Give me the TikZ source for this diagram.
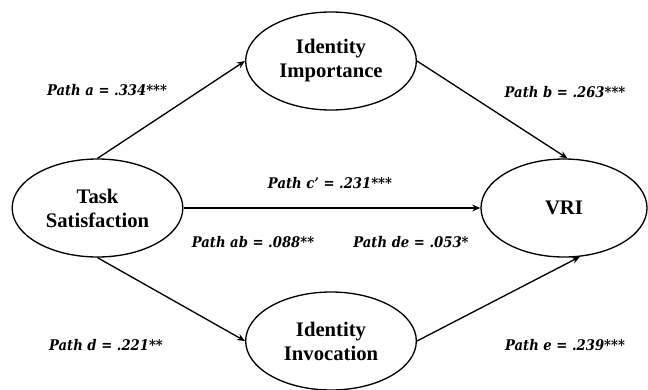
\documentclass[tikz,border=0pt]{standalone}
\usepackage{fontspec}
\setmainfont{Liberation Serif}
\newfontfamily\coeffont{DejaVu Serif Condensed}
\usetikzlibrary{shapes.geometric,arrows.meta}

\tikzset{
  latent/.style={ellipse,draw,line width=1pt,inner sep=0pt,minimum width=128pt,
    minimum height=73.5pt,align=center,
    font=\fontsize{15.5}{18}\selectfont\bfseries},
  coef/.style={font=\coeffont\bfseries\itshape\fontsize{11}{13}\selectfont},
  effect/.style={line width=1pt,-{Stealth[length=6pt,width=5pt]}}
}

\begin{document}
\begin{tikzpicture}[x=0.75pt,y=-0.75pt]
  \useasboundingbox (0,0) rectangle (648,389);
  % constructs
  \node[latent] (task) at (97.5,208) {Task\\Satisfaction};
  \node[latent] (imp) at (331,61) {Identity\\Importance};
  \node[latent] (inv) at (331,341) {Identity\\Invocation};
  \node[latent,minimum width=124.5pt] (vri) at (564,208) {VRI};
  % paths
  \draw[effect] (task.north) -- (imp.west);
  \draw[effect] (imp.east) -- (vri.86);
  \draw[effect] (task.east) -- (vri.west);
  \draw[effect] (task.south) -- (inv.west);
  \draw[effect] (inv.east) -- (vri.-72);
  % coefficients
  \node[coef] (pa) at (107,90) {Path a = .334***};
  \node[coef] (pb) at (565,92) {Path b = .263***};
  \node[coef] (pc) at (330,183) {Path c’ = .231***};
  \node[coef] (pab) at (253,242) {Path ab = .088**};
  \node[coef] (pde) at (411,242) {Path de = .053*};
  \node[coef] (pd) at (106,345) {Path d = .221**};
  \node[coef] (pe) at (565,345) {Path e = .239***};
\end{tikzpicture}
\end{document}
